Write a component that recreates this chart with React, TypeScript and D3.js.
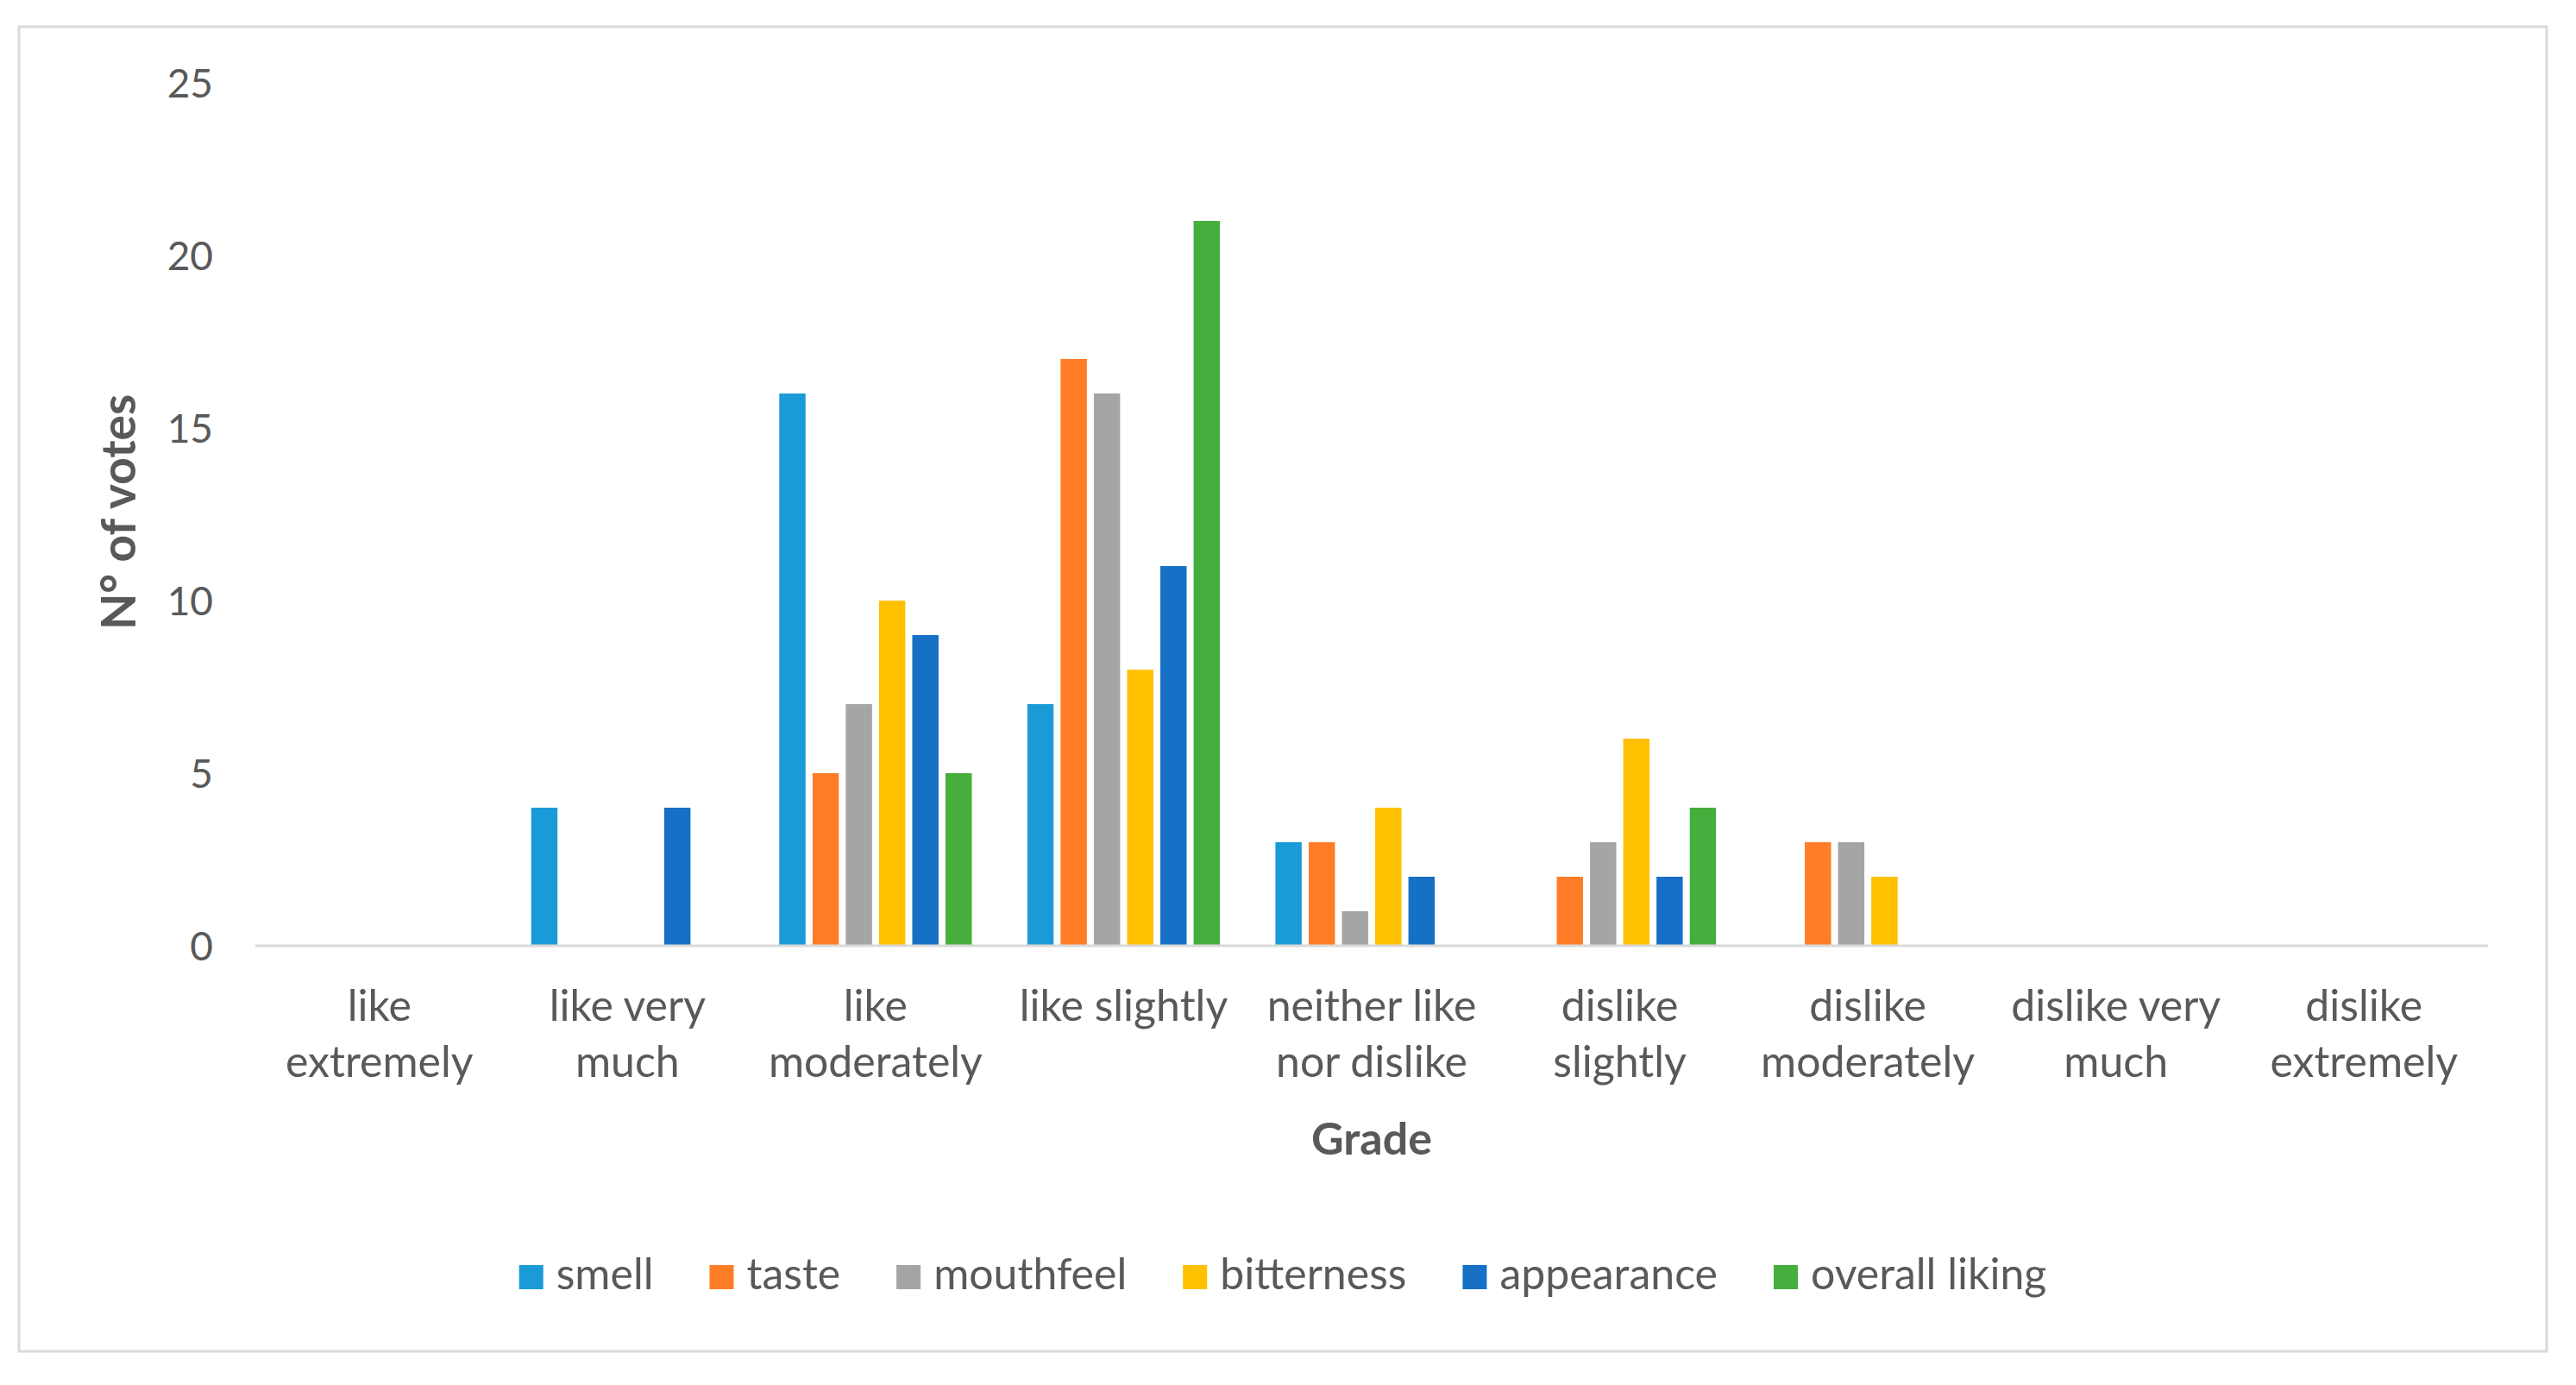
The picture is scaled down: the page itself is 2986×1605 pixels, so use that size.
import { useEffect, useRef } from "react";
import * as d3 from "d3";

const WIDTH = 2986;
const HEIGHT = 1605;
const PLOT = { left: 296, right: 2884, top: 96, bottom: 1096 };
const FRAME = { x: 22, y: 31, w: 2930, h: 1535 };
const FONT = "Lato, 'Open Sans', sans-serif";
const TEXT_COLOR = "#595959";

const CATEGORIES = [
  "like\nextremely",
  "like very\nmuch",
  "like\nmoderately",
  "like slightly",
  "neither like\nnor dislike",
  "dislike\nslightly",
  "dislike\nmoderately",
  "dislike very\nmuch",
  "dislike\nextremely",
];

const SERIES = ["smell", "taste", "mouthfeel", "bitterness", "appearance", "overall liking"];
const COLORS = ["#1A9BD7", "#FF7D26", "#A5A5A5", "#FFC000", "#1570C6", "#45AE3C"];

const SMELL = [0, 4, 16, 7, 3, 0, 0, 0, 0];
const TASTE = [0, 0, 5, 17, 3, 2, 3, 0, 0];
const MOUTHFEEL = [0, 0, 7, 16, 1, 3, 3, 0, 0];
const BITTERNESS = [0, 0, 10, 8, 4, 6, 2, 0, 0];
const APPEARANCE = [0, 4, 9, 11, 2, 2, 0, 0, 0];
const OVERALL = [0, 0, 5, 21, 0, 4, 0, 0, 0];

const Y_TICKS = [0, 5, 10, 15, 20, 25];

type Bar = { cat: string; series: string; value: number; color: string };

export default function App() {
  const svgRef = useRef<SVGSVGElement>(null);

  useEffect(() => {
    document.body.style.margin = "0";
    if (!svgRef.current) return;

    const svg = d3.select(svgRef.current);
    svg.selectAll("*").remove();

    const values = [SMELL, TASTE, MOUTHFEEL, BITTERNESS, APPEARANCE, OVERALL];
    const bars: Bar[] = [];
    CATEGORIES.forEach((cat, i) => {
      SERIES.forEach((s, j) => {
        bars.push({ cat, series: s, value: values[j][i], color: COLORS[j] });
      });
    });

    const x0 = d3.scaleBand<string>().domain(CATEGORIES).range([PLOT.left, PLOT.right]);
    const x1 = d3
      .scaleBand<string>()
      .domain(SERIES)
      .range([0, x0.bandwidth()])
      .paddingInner(0.21)
      .paddingOuter(0.835);
    const y = d3.scaleLinear().domain([0, 25]).range([PLOT.bottom, PLOT.top]);

    // chart frame
    svg
      .append("rect")
      .attr("x", FRAME.x)
      .attr("y", FRAME.y)
      .attr("width", FRAME.w)
      .attr("height", FRAME.h)
      .attr("fill", "white")
      .attr("stroke", "#D9D9D9")
      .attr("stroke-width", 3);

    // y tick labels
    svg
      .append("g")
      .selectAll("text")
      .data(Y_TICKS)
      .join("text")
      .attr("x", 247)
      .attr("y", (d) => y(d))
      .attr("dy", "0.36em")
      .attr("text-anchor", "end")
      .attr("font-family", FONT)
      .attr("font-size", 46)
      .attr("fill", TEXT_COLOR)
      .text((d) => d);

    // bars
    svg
      .append("g")
      .selectAll("rect")
      .data(bars.filter((b) => b.value > 0))
      .join("rect")
      .attr("x", (b) => (x0(b.cat) ?? 0) + (x1(b.series) ?? 0))
      .attr("y", (b) => y(b.value))
      .attr("width", x1.bandwidth())
      .attr("height", (b) => y(0) - y(b.value))
      .attr("fill", (b) => b.color);

    // baseline
    svg
      .append("line")
      .attr("x1", PLOT.left)
      .attr("x2", PLOT.right)
      .attr("y1", y(0))
      .attr("y2", y(0))
      .attr("stroke", "#D9D9D9")
      .attr("stroke-width", 3);

    // category labels
    const catText = svg
      .append("g")
      .selectAll("text")
      .data(CATEGORIES)
      .join("text")
      .attr("x", (d) => (x0(d) ?? 0) + x0.bandwidth() / 2)
      .attr("y", 1183)
      .attr("text-anchor", "middle")
      .attr("font-family", FONT)
      .attr("font-size", 50)
      .attr("fill", TEXT_COLOR);
    catText
      .selectAll("tspan")
      .data((d) => d.split("\n"))
      .join("tspan")
      .attr("x", function () {
        return (this.parentNode as SVGTextElement).getAttribute("x");
      })
      .attr("dy", (_, i) => (i === 0 ? 0 : 65))
      .text((d) => d);

    // axis titles
    svg
      .append("text")
      .attr("x", (PLOT.left + PLOT.right) / 2)
      .attr("y", 1338)
      .attr("text-anchor", "middle")
      .attr("font-family", FONT)
      .attr("font-weight", "bold")
      .attr("font-size", 52)
      .attr("fill", TEXT_COLOR)
      .text("Grade");

    svg
      .append("text")
      .attr("transform", `translate(157,${(457 + 730) / 2}) rotate(-90)`)
      .attr("text-anchor", "middle")
      .attr("font-family", FONT)
      .attr("font-weight", "bold")
      .attr("font-size", 55)
      .attr("fill", TEXT_COLOR)
      .text("N° of votes");

    // legend, centred in the frame
    const legend = svg.append("g");
    const items = legend
      .selectAll("g")
      .data(SERIES)
      .join("g");
    items
      .append("rect")
      .attr("y", 1466)
      .attr("width", 28)
      .attr("height", 28)
      .attr("fill", (_, i) => COLORS[i]);
    items
      .append("text")
      .attr("x", 43)
      .attr("y", 1494)
      .attr("font-family", FONT)
      .attr("font-size", 50)
      .attr("fill", TEXT_COLOR)
      .text((d) => d);

    const widths: number[] = [];
    items.each(function () {
      const t = d3.select(this).select<SVGTextElement>("text").node();
      widths.push(43 + (t ? t.getComputedTextLength() : 0));
    });
    const gap = 65;
    const total = d3.sum(widths) + gap * (widths.length - 1);
    let cx = FRAME.x + FRAME.w / 2 - total / 2;
    items.attr("transform", (_, i) => {
      const tx = cx;
      cx += widths[i] + gap;
      return `translate(${tx},0)`;
    });
  }, []);

  return <svg ref={svgRef} width={WIDTH} height={HEIGHT} style={{ display: "block" }} />;
}
